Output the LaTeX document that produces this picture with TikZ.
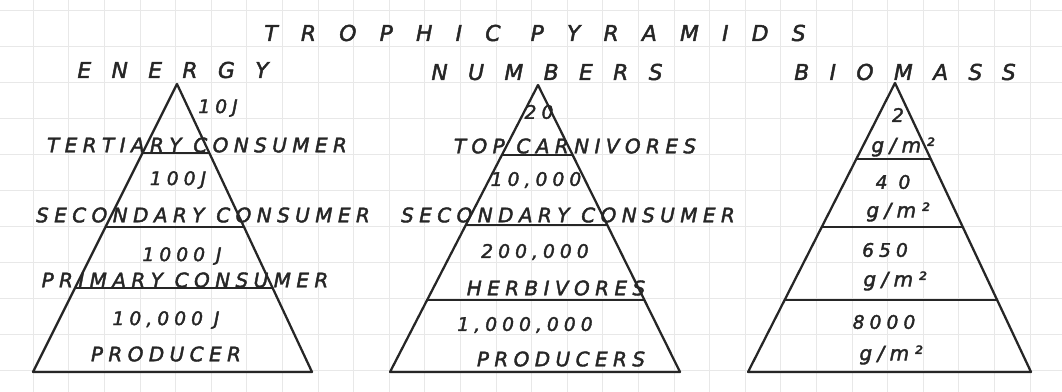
\documentclass[tikz,border=0pt]{standalone}
\usepackage{fontspec}
\usetikzlibrary{calc}
\newfontfamily\handfont[LetterSpace=27, FakeBold=2]{DejaVu Sans}
\newfontfamily\headfont[LetterSpace=93, FakeBold=2]{DejaVu Sans}
\newfontfamily\titlefont[LetterSpace=106, FakeBold=2]{DejaVu Sans}
\tikzset{
  pen/.style={line width=1.7pt, black!85, line join=round},
  gridline/.style={very thin, black!9},
  lbl/.style={font=\handfont\itshape\fontsize{15}{17}\selectfont, text=black!85, inner sep=0pt},
  num/.style={lbl, font=\handfont\itshape\fontsize{14}{16}\selectfont},
  head/.style={font=\headfont\itshape\fontsize{16.4}{18}\selectfont, text=black!85, inner sep=0pt},
}
\begin{document}
\begin{tikzpicture}[x=0.75pt, y=-0.75pt]
      \useasboundingbox (0,0) rectangle (1062,392);
      % Grid paper
      \foreach \i in {0,...,28}
        \draw[gridline] ({33+35.6*\i},0) -- ({33+35.6*\i},392);
      \foreach \j in {0,...,10}
        \draw[gridline] (0,{10+36*\j}) -- (1062,{10+36*\j});

      % Headings
      \node[head, font=\titlefont\itshape\fontsize{16.4}{18}\selectfont] (title) at (535,33) {TROPHIC PYRAMIDS};
      \node[head] (energy) at (173,70) {ENERGY};
      \node[head] (numbers) at (547,72) {NUMBERS};
      \node[head] (biomass) at (905,72) {BIOMASS};

      % Energy pyramid
      \coordinate (ea) at (177,84);
      \coordinate (el) at (33,372);
      \coordinate (er) at (312,372);
      \draw[pen] (el) -- (ea) -- (er) -- cycle;
      \foreach \t in {0.24,0.497,0.708}
        \draw[pen] ($(ea)!\t!(el)$) -- ($(ea)!\t!(er)$);
      \node[num] (e1) at (218,108) {10J};
      \node[lbl] (e2) at (197,145) {TERTIARY CONSUMER};
      \node[num] (e3) at (178,180) {100J};
      \node[lbl] (e4) at (203,215) {SECONDARY CONSUMER};
      \node[num] (e5) at (182,256) {1000 J};
      \node[lbl] (e6) at (185,280) {PRIMARY CONSUMER};
      \node[num] (e7) at (166,320) {10,000 J};
      \node[lbl] (e8) at (166,354) {PRODUCER};

      % Numbers pyramid
      \coordinate (na) at (538,85);
      \coordinate (nl) at (390,372);
      \coordinate (nr) at (680,372);
      \draw[pen] (nl) -- (na) -- (nr) -- cycle;
      \foreach \t in {0.244,0.488,0.749}
        \draw[pen] ($(na)!\t!(nl)$) -- ($(na)!\t!(nr)$);
      \node[num] (n1) at (539,112) {20};
      \node[lbl] (n2) at (575,146) {TOP CARNIVORES};
      \node[num] (n3) at (536,180) {10,000};
      \node[lbl] (n4) at (568,215) {SECONDARY CONSUMER};
      \node[num] (n5) at (535,252) {200,000};
      \node[lbl] (n6) at (556,288) {HERBIVORES};
      \node[num] (n7) at (525,325) {1,000,000};
      \node[lbl] (n8) at (561,359) {PRODUCERS};

      % Biomass pyramid
      \coordinate (ba) at (895,83);
      \coordinate (bl) at (748,372);
      \coordinate (br) at (1031,372);
      \draw[pen] (bl) -- (ba) -- (br) -- cycle;
      \foreach \t in {0.263,0.498,0.751}
        \draw[pen] ($(ba)!\t!(bl)$) -- ($(ba)!\t!(br)$);
      \node[num] (b1) at (898,115) {2};
      \node[lbl] (b2) at (903,147) {g/m²};
      \node[num] (b3) at (893,182) {4 0};
      \node[lbl] (b4) at (898,212) {g/m²};
      \node[num] (b5) at (885,250) {650};
      \node[lbl] (b6) at (895,281) {g/m²};
      \node[num] (b7) at (884,322) {8000};
      \node[lbl] (b8) at (891,355) {g/m²};
    \end{tikzpicture}
\end{document}
